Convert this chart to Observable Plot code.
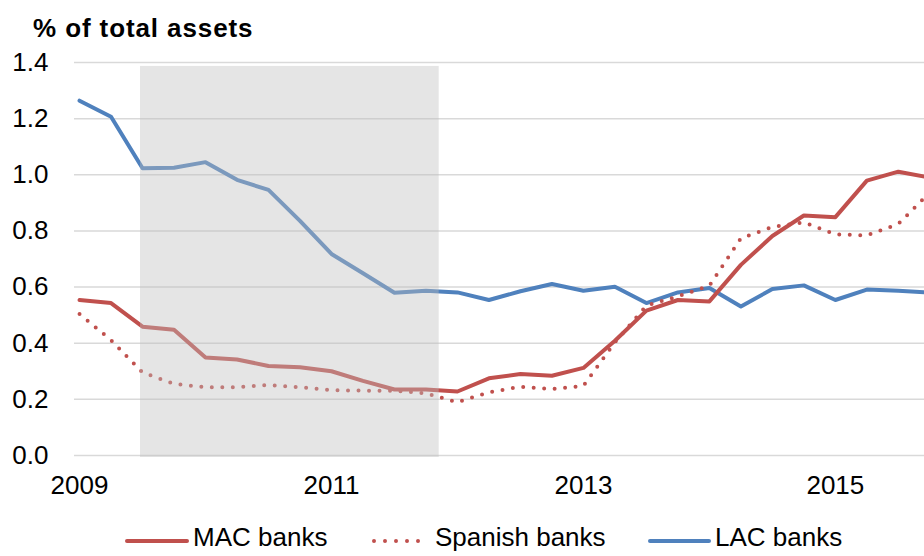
<!DOCTYPE html>
<html>
<head>
<meta charset="utf-8">
<script src="https://cdn.jsdelivr.net/npm/d3@7"></script>
<script src="https://cdn.jsdelivr.net/npm/@observablehq/plot@0.6"></script>
<style>
  html, body { margin: 0; padding: 0; background: #fff; }
  #wrap { position: relative; width: 924px; height: 556px; overflow: hidden; font-family: 'Liberation Sans', Arial, sans-serif; color: #000; }
  #title { position: absolute; left: 33px; top: 15px; font-size: 26px; line-height: 26px; font-weight: bold; letter-spacing: 0.9px; white-space: nowrap; }
  #chart { position: absolute; left: 0; top: 44px; }
  .leg { position: absolute; top: 524px; height: 30px; font-size: 26px; line-height: 26px; white-space: nowrap; }
  .leg svg { position: absolute; top: 4px; }
  .leg span { position: absolute; top: 0; }
</style>
</head>
<body>
<div id="wrap">
  <div id="title">% of total assets</div>
  <div id="chart"></div>
</div>
<script>
// ---- data ----
const quarters = [
  "2009Q1","2009Q2","2009Q3","2009Q4","2010Q1","2010Q2","2010Q3","2010Q4",
  "2011Q1","2011Q2","2011Q3","2011Q4","2012Q1","2012Q2","2012Q3","2012Q4",
  "2013Q1","2013Q2","2013Q3","2013Q4","2014Q1","2014Q2","2014Q3","2014Q4",
  "2015Q1","2015Q2","2015Q3","2015Q4"
];
const macBanks = [0.554,0.543,0.459,0.448,0.349,0.342,0.319,0.314,0.300,0.266,0.235,0.235,0.228,0.275,0.290,0.284,0.312,0.409,0.516,0.554,0.549,0.679,0.782,0.855,0.849,0.979,1.011,0.990];
const spanishBanks = [0.504,0.411,0.296,0.255,0.243,0.243,0.251,0.243,0.233,0.231,0.231,0.221,0.190,0.225,0.245,0.237,0.248,0.403,0.534,0.567,0.605,0.774,0.814,0.831,0.788,0.784,0.825,0.937];
const lacBanks = [1.264,1.207,1.023,1.025,1.045,0.982,0.946,0.836,0.718,0.649,0.580,0.587,0.581,0.554,0.585,0.611,0.587,0.601,0.543,0.581,0.597,0.531,0.593,0.606,0.554,0.591,0.587,0.580];
const seriesNames = ["MAC banks", "Spanish banks", "LAC banks"];
const yTicks = [0, 0.2, 0.4, 0.6, 0.8, 1.0, 1.2, 1.4];
const xTicks = [2009, 2011, 2013, 2015];
const shadeStart = [2009.484];
const shadeEnd = [2011.855];
const shadeLow = [-0.007];
const shadeHigh = [1.386];

// ---- build tables ----
const qpos = q => +q.slice(0, 4) + (+q.slice(5) - 1) / 4;
const rows = vals => quarters.map((q, i) => ({x: qpos(q), y: vals[i]}));
const shade = shadeStart.map((s, i) => ({x1: s, x2: shadeEnd[i], y1: shadeLow[i], y2: shadeHigh[i]}));

const red = "#c0504d", blue = "#4f81bd";

const chart = Plot.plot({
  width: 924,
  height: 461,
  marginLeft: 74,
  marginRight: 0,
  marginTop: 18,
  marginBottom: 50,
  x: {type: "linear", domain: [2008.96, 2015.7075]},
  y: {domain: [0, 1.4]},
  style: {fontFamily: "'Liberation Sans', Arial, sans-serif", fontSize: "26px", color: "#000", background: "transparent", overflow: "hidden"},
  marks: [
    Plot.ruleY(yTicks, {stroke: "#d9d9d9", strokeWidth: 1.5}),
    Plot.line(rows(lacBanks), {x: "x", y: "y", stroke: blue, strokeWidth: 4, clip: true}),
    Plot.line(rows(spanishBanks), {x: "x", y: "y", stroke: red, strokeWidth: 4, strokeDasharray: "0 10.5", strokeLinecap: "round", clip: true}),
    Plot.line(rows(macBanks), {x: "x", y: "y", stroke: red, strokeWidth: 4, clip: true}),
    Plot.rect(shade, {x1: "x1", x2: "x2", y1: "y1", y2: "y2", fill: "#bfbfbf", fillOpacity: 0.4}),
    Plot.axisY({ticks: yTicks, tickSize: 0, tickPadding: 26, tickFormat: d3.format(".1f"), label: null, fontSize: 26}),
    Plot.axisX({ticks: xTicks, tickSize: 0, tickPadding: 20, tickFormat: d3.format("d"), label: null, fontSize: 26})
  ]
});
document.getElementById("chart").appendChild(chart);

// ---- legend (below the chart) ----
const wrap = document.getElementById("wrap");
const legendItems = [
  {name: seriesNames[0], color: red, dash: null, left: 127, sw: 60},
  {name: seriesNames[1], color: red, dash: "0 11", left: 372, sw: 57},
  {name: seriesNames[2], color: blue, dash: null, left: 650, sw: 59}
];
legendItems.forEach(it => {
  const d = document.createElement("div");
  d.className = "leg";
  d.style.left = it.left + "px";
  const ns = "http://www.w3.org/2000/svg";
  const s = document.createElementNS(ns, "svg");
  s.setAttribute("width", it.sw + 4);
  s.setAttribute("height", 26);
  s.style.left = "-2px";
  const l = document.createElementNS(ns, "line");
  l.setAttribute("x1", 2 + (it.dash ? 2 : 0));
  l.setAttribute("x2", it.sw + 2);
  l.setAttribute("y1", 13);
  l.setAttribute("y2", 13);
  l.setAttribute("stroke", it.color);
  l.setAttribute("stroke-width", 4);
  l.setAttribute("stroke-linecap", "round");
  if (it.dash) l.setAttribute("stroke-dasharray", it.dash);
  s.appendChild(l);
  d.appendChild(s);
  const t = document.createElement("span");
  t.textContent = it.name;
  t.style.left = (it.sw + 6) + "px";
  d.appendChild(t);
  wrap.appendChild(d);
});
</script>
</body>
</html>
